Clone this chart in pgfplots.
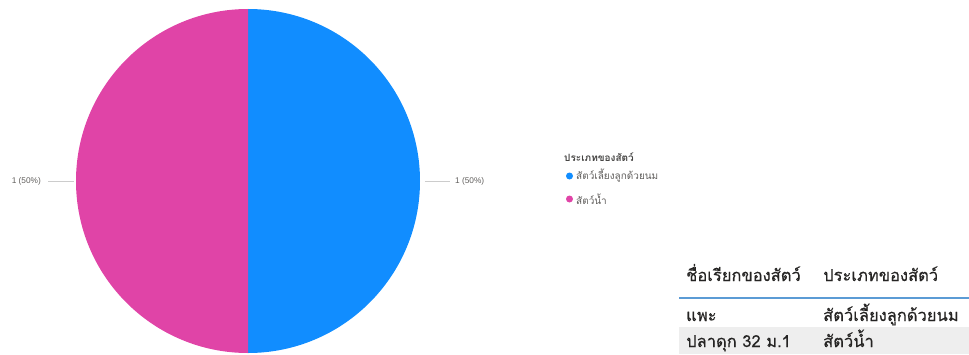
\documentclass[border=0pt]{standalone}
\usepackage{pgfplots}
\usepackage{pgfplotstable}
\pgfplotsset{compat=1.18}
\usepackage{fontspec}
\setmainfont{Liberation Sans}
\newfontfamily\thai[Script=Thai]{Loma}
\newfontfamily\thaitab[Script=Thai,FakeBold=0.5]{Loma}
\definecolor{pbblue}{HTML}{118DFF}
\definecolor{pbpink}{HTML}{E044A7}
\definecolor{lbl}{HTML}{605E5C}
\definecolor{txt}{HTML}{252423}
\definecolor{rowgray}{HTML}{EEEEEE}
\definecolor{rule}{HTML}{5B9BD5}
\pgfplotstableread{
idx value
0 1
1 1
}\piedata
\begin{document}
\begin{tikzpicture}[x=1pt,y=1pt]
\useasboundingbox (0,0) rectangle (969,354);
\pgfplotstablegetelem{0}{value}\of\piedata \let\va\pgfplotsretval
\pgfplotstablegetelem{1}{value}\of\piedata \let\vb\pgfplotsretval
\pgfmathsetmacro\tot{\va+\vb}
\pgfmathsetmacro\aend{90-360*\va/\tot}
\pgfmathsetmacro\bend{\aend-360*\vb/\tot}
\begin{axis}[at={(76pt,1pt)}, anchor=south west, width=344pt, height=344pt,
  scale only axis, xmin=-1, xmax=1, ymin=-1, ymax=1, hide axis, clip=false]
\fill[pbblue] (axis cs:0,0) -- ++(90:172pt) arc[start angle=90, end angle=\aend, radius=172pt] -- cycle;
\fill[pbpink] (axis cs:0,0) -- ++(\aend:172pt) arc[start angle=\aend, end angle=\bend, radius=172pt] -- cycle;
\draw[black!20, line width=0.6pt] (axis cs:-1.012,0) -- (axis cs:-1.163,0);
\draw[black!20, line width=0.6pt] (axis cs:1.029,0) -- (axis cs:1.174,0);
\node[anchor=east, font=\fontsize{8.3}{9}\selectfont, text=lbl, inner sep=0pt] at (axis cs:-1.203,0) {1 (50\%)};
\node[anchor=west, font=\fontsize{8.3}{9}\selectfont, text=lbl, inner sep=0pt] at (axis cs:1.203,0) {1 (50\%)};
\end{axis}
% legend
\node[anchor=west, inner sep=0pt, font=\thai\fontsize{10}{11}\selectfont\bfseries, text=txt!85] at (564,197) {ประเภทของสัตว์};
\fill[pbblue] (569.5,178) circle (3.5pt);
\node[anchor=west, inner sep=0pt, font=\thai\fontsize{10}{11}\selectfont, text=lbl] at (576,178) {สัตว์เลี้ยงลูกด้วยนม};
\fill[pbpink] (569.5,155) circle (3.5pt);
\node[anchor=west, inner sep=0pt, font=\thai\fontsize{10}{11}\selectfont, text=lbl] at (576,155) {สัตว์น้ำ};
% table
\fill[rowgray] (679,0) rectangle (969,27);
\draw[rule, line width=1.2pt] (679,56) -- (969,56);
\tikzset{cell/.style={anchor=base west, inner sep=0pt, font=\thaitab\fontsize{16.5}{17}\selectfont, text=txt}}
\node[cell] at (686,73) {ชื่อเรียกของสัตว์};
\node[cell] at (823,73) {ประเภทของสัตว์};
\node[cell] at (686,33) {แพะ};
\node[cell] at (823,33) {สัตว์เลี้ยงลูกด้วยนม};
\node[cell] at (686,7) {ปลาดุก 32 ม.1};
\node[cell] at (823,7) {สัตว์น้ำ};
\end{tikzpicture}
\end{document}
